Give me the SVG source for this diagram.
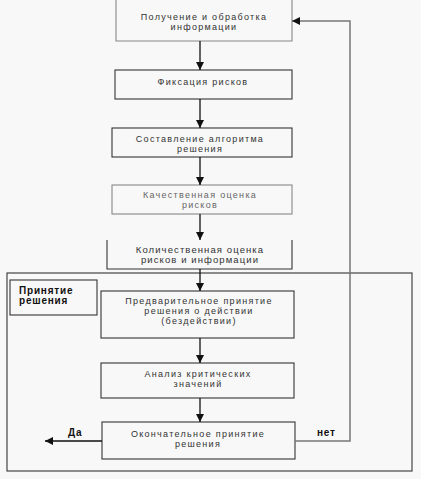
<svg xmlns="http://www.w3.org/2000/svg" width="421" height="479" viewBox="0 0 421 479">
<defs>
<marker id="ah" markerUnits="userSpaceOnUse" markerWidth="10" markerHeight="8" refX="8" refY="4" orient="auto">
<path d="M0,0 L8,4 L0,8 Z" fill="#111"/>
</marker>
<style>
.b{fill:none;stroke:#333;stroke-width:1.1}
.bl{fill:none;stroke:#888;stroke-width:1.1}
.t{font-family:"Liberation Sans",Arial,sans-serif;font-size:9px;fill:#333;text-anchor:middle;letter-spacing:1.3px}
.tl{fill:#666}
.bold{font-family:"Liberation Sans",Arial,sans-serif;font-size:10px;font-weight:bold;fill:#111;letter-spacing:0.8px}
.c{fill:none;stroke:#111;stroke-width:1.3}
.cg{fill:none;stroke:#777;stroke-width:1.5}
</style>
</defs>
<rect width="421" height="479" fill="#f8f8f8"/>
<g id="frame">
<rect x="7" y="273" width="405" height="198" class="b"/>
</g>
<g id="label">
<rect x="10" y="280" width="87" height="35" class="b"/>
<text class="bold" x="19" y="294">Принятие</text>
<text class="bold" x="19" y="304">решения</text>
</g>
<g id="n1">
<path d="M116,-2 V41 H292 V-2" class="bl"/>
<text class="t" x="204" y="19.5">Получение и обработка</text>
<text class="t" x="204" y="29.5">информации</text>
</g>
<g id="n2">
<rect x="115" y="70" width="177" height="29" class="b"/>
<text class="t" x="203" y="84.5">Фиксация рисков</text>
</g>
<g id="n3">
<rect x="112" y="128" width="180" height="29" class="b"/>
<text class="t" x="200" y="141.5">Составление алгоритма</text>
<text class="t" x="200" y="151.5">решения</text>
</g>
<g id="n4">
<rect x="112" y="185" width="180" height="29" class="bl"/>
<text class="t tl" x="200" y="197.5">Качественная оценка</text>
<text class="t tl" x="200" y="207.5">рисков</text>
</g>
<g id="n5">
<path d="M107,240 V269 H292 V240" class="b"/>
<text class="t" x="200" y="252.5" style="font-size:9.5px;letter-spacing:1.1px">Количественная оценка</text>
<text class="t" x="200" y="262.5" style="font-size:9.5px;letter-spacing:1.1px">рисков и информации</text>
</g>
<g id="n6">
<rect x="101" y="291" width="193" height="47" class="b"/>
<text class="t" x="199" y="304">Предварительное принятие</text>
<text class="t" x="199" y="314">решения о действии</text>
<text class="t" x="199" y="324">(бездействии)</text>
</g>
<g id="n7">
<rect x="101" y="363" width="193" height="35" class="b"/>
<text class="t" x="198" y="376.5">Анализ критических</text>
<text class="t" x="198" y="386.5">значений</text>
</g>
<g id="n8">
<rect x="102" y="422" width="193" height="37" class="b"/>
<text class="t" x="198" y="436.5">Окончательное принятие</text>
<text class="t" x="198" y="446.5">решения</text>
</g>
<g id="connectors">
<line x1="200" y1="41" x2="200" y2="70" class="c" marker-end="url(#ah)"/>
<line x1="200" y1="99" x2="200" y2="128" class="c" marker-end="url(#ah)"/>
<line x1="200" y1="157" x2="200" y2="185" class="c" marker-end="url(#ah)"/>
<line x1="200" y1="214" x2="200" y2="240" class="c" marker-end="url(#ah)"/>
<line x1="200" y1="269" x2="200" y2="291" class="c" marker-end="url(#ah)"/>
<line x1="200" y1="338" x2="200" y2="363" class="c" marker-end="url(#ah)"/>
<line x1="200" y1="398" x2="200" y2="422" class="c" marker-end="url(#ah)"/>
<line x1="102" y1="441" x2="45" y2="441" class="c" marker-end="url(#ah)"/>
<path d="M295,441 H350 V21 H292" class="cg" marker-end="url(#ah)"/>
<text class="bold" x="68" y="436">Да</text>
<text class="bold" x="317" y="436">нет</text>
</g>
</svg>
